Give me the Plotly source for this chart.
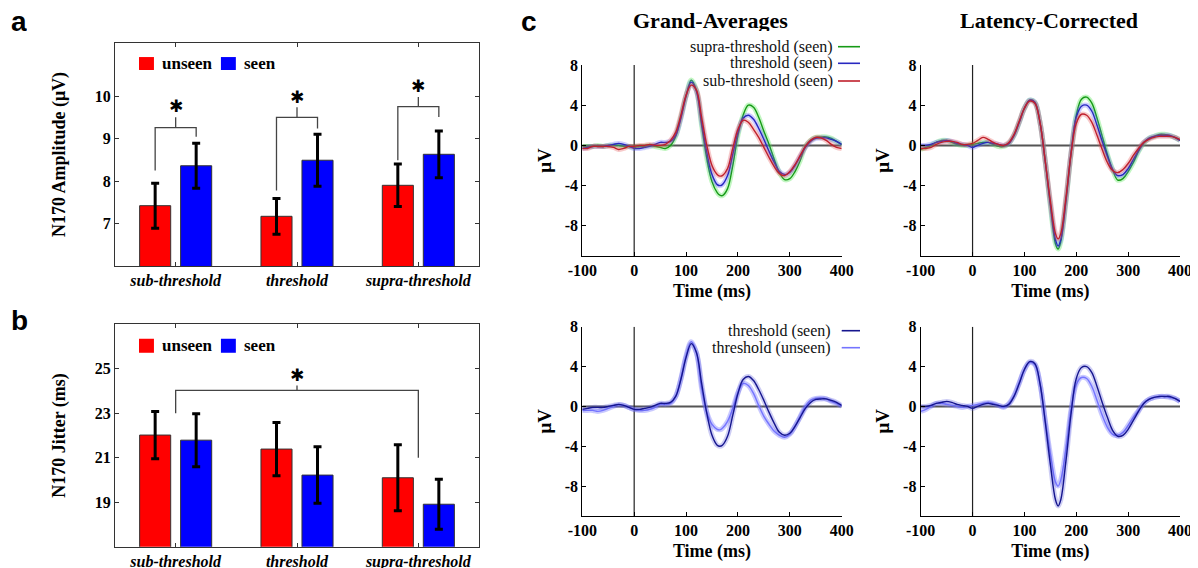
import plotly.graph_objects as go

# ---------------- data ----------------
categories = ["sub-threshold", "threshold", "supra-threshold"]
cat_pos = [1, 2, 3]

amp_unseen = [7.42, 7.17, 7.90]
amp_unseen_err = [0.53, 0.42, 0.50]
amp_seen = [8.36, 8.49, 8.63]
amp_seen_err = [0.53, 0.61, 0.55]

jit_unseen = [22.02, 21.39, 20.10]
jit_unseen_err = [1.06, 1.20, 1.48]
jit_seen = [21.79, 20.22, 18.91]
jit_seen_err = [1.19, 1.27, 1.12]

# significance brackets (panel a): per category
sig_a_left_foot = [8.25, 7.78, 8.49]
sig_a_right_foot = [9.04, 9.24, 9.51]
sig_a_top = [9.26, 9.50, 9.75]
sig_a_tick = [9.50, 9.74, 9.98]
sig_a_star = [9.77, 9.98, 10.24]
# panel b bracket: sub-threshold vs supra-threshold
sig_b_left_foot = 23.0
sig_b_right_foot = 21.0
sig_b_top = 24.03
sig_b_tick = 24.25
sig_b_star = 24.72

time_ms = [-100, -90, -80, -70, -60, -50, -40, -30, -20, -10, 0, 10, 20, 30, 40, 50,
           60, 70, 80, 90, 100, 110, 120, 130, 140, 150, 160, 165, 170, 180, 190, 200,
           210, 220, 230, 240, 250, 260, 270, 280, 290, 300, 310, 320, 330, 340, 350,
           360, 370, 380, 390, 400]

ga_supra_seen = [-0.1, -0.1, -0.1, 0.0, -0.1, 0.0, 0.0, 0.0, -0.1, -0.1, -0.2, -0.1, -0.1, 0.0, -0.1, -0.2,
                 -0.3, 0.0, 0.9, 2.8, 4.9, 6.5, 5.5, 2.0, -1.3, -3.6, -4.7, -4.95, -5.0, -4.3, -2.0, 1.0,
                 3.0, 4.0, 3.8, 2.8, 1.4, 0.1, -1.4, -2.7, -3.4, -3.3, -2.6, -1.5, -0.1, 0.5, 0.8,
                 0.85, 0.85, 0.7, 0.4, 0.1]
ga_thr_seen = [-0.3, -0.2, -0.1, -0.1, -0.1, 0.0, 0.1, 0.2, 0.1, -0.1, -0.3, -0.3, -0.2, -0.1, 0.1, 0.3,
               0.3, 0.4, 1.0, 2.7, 4.9, 6.3, 5.4, 2.3, -0.7, -2.9, -3.9, -4.0, -3.9, -3.0, -0.9, 1.3,
               2.7, 3.0, 2.6, 1.7, 0.6, -0.6, -1.7, -2.6, -2.9, -2.7, -2.0, -1.1, -0.2, 0.4, 0.7,
               0.75, 0.75, 0.6, 0.4, 0.1]
ga_sub_seen = [-0.3, -0.3, -0.1, -0.1, -0.1, -0.1, -0.2, -0.4, -0.3, -0.1, -0.1, 0.0, 0.0, 0.1, 0.0, 0.0,
               0.1, 0.5, 1.3, 3.0, 5.0, 6.0, 5.5, 2.8, 0.0, -2.0, -2.9, -3.05, -3.0, -2.3, -0.3, 1.6,
               2.5, 2.3, 1.6, 0.8, -0.2, -1.2, -2.1, -2.8, -3.0, -2.6, -1.9, -1.0, -0.1, 0.5, 0.8,
               0.75, 0.5, 0.1, -0.2, -0.3]
ga_thr_unseen = [-0.4, -0.4, -0.4, -0.5, -0.4, -0.2, 0.0, 0.15, 0.1, -0.1, -0.3, -0.4, -0.4, -0.3, -0.1, 0.2,
                 0.2, 0.3, 1.0, 2.8, 5.1, 6.5, 5.4, 1.8, -0.6, -1.8, -2.3, -2.35, -2.2, -1.5, -0.2, 1.4,
                 2.3, 2.1, 1.3, 0.1, -1.0, -1.8, -2.5, -2.9, -3.1, -2.8, -2.0, -1.0, 0.0, 0.6, 0.8,
                 0.85, 0.75, 0.5, 0.3, 0.0]

lc_supra_seen = [-0.4, -0.2, 0.0, 0.3, 0.5, 0.5, 0.3, 0.1, 0.0, 0.0, 0.1, 0.2, 0.3, 0.3, 0.1, -0.1,
                 -0.1, 0.2, 1.0, 2.3, 3.7, 4.5, 4.3, 2.3, -1.5, -6.0, -9.8, -10.3, -9.6, -5.6, -0.8, 3.0,
                 4.6, 4.8, 4.2, 2.7, 0.9, -0.9, -2.4, -3.45, -3.3, -2.6, -1.7, -0.6, 0.2, 0.7, 0.9,
                 1.1, 1.1, 1.0, 0.8, 0.5]
lc_thr_seen = [0.0, 0.0, 0.1, 0.3, 0.4, 0.5, 0.4, 0.2, 0.1, 0.0, -0.2, 0.0, 0.2, 0.3, 0.2, 0.1,
               0.0, 0.2, 1.0, 2.3, 3.7, 4.5, 4.3, 2.3, -1.5, -5.8, -9.4, -10.0, -9.4, -5.5, -0.7, 2.8,
               3.9, 4.0, 3.4, 2.0, 0.4, -1.1, -2.4, -3.0, -2.9, -2.3, -1.4, -0.5, 0.3, 0.7, 0.9,
               1.0, 1.0, 1.0, 0.8, 0.5]
lc_sub_seen = [-0.3, -0.3, -0.2, 0.1, 0.3, 0.4, 0.4, 0.3, 0.1, 0.1, 0.2, 0.5, 0.8, 0.6, 0.3, 0.1,
               0.0, 0.3, 1.1, 2.4, 3.7, 4.4, 4.2, 2.3, -1.5, -5.5, -8.8, -9.3, -8.8, -5.2, -0.8, 2.2,
               3.1, 3.0, 2.3, 1.0, -0.4, -1.7, -2.5, -2.7, -2.4, -1.8, -1.0, -0.3, 0.3, 0.6, 0.8,
               0.9, 0.9, 0.9, 0.8, 0.6]
lc_thr_unseen = [-0.5, -0.3, 0.0, 0.3, 0.3, 0.2, 0.1, 0.0, -0.1, 0.0, 0.1, 0.2, 0.3, 0.4, 0.3, 0.1,
                 -0.1, 0.3, 1.1, 2.4, 3.7, 4.4, 4.2, 2.3, -1.3, -4.8, -7.6, -8.0, -7.4, -4.3, -0.3, 2.2,
                 2.9, 2.8, 2.0, 0.6, -0.9, -2.1, -2.8, -2.9, -2.6, -1.9, -1.1, -0.4, 0.3, 0.7, 0.9,
                 1.0, 1.0, 0.9, 0.8, 0.5]

amp_ticks = [7, 8, 9, 10]
jit_ticks = [19, 21, 23, 25]
erp_xticks = [-100, 0, 100, 200, 300, 400]
erp_xlabels = ["-100", "0", "100", "200", "300", "400"]
erp_yticks = [8, 4, 0, -4, -8]
erp_ylabels = ["8", "4", "0", "-4", "-8"]

# ---------------- style ----------------
W, H = 1198, 568
PAGE_OFF = 8  # default body margin of the html page
SERIF = "Liberation Serif"
RED, BLUE = "#ff0000", "#0000ff"
C_GREEN, C_BLUE, C_RED = "#169a16", "#2828c0", "#c0202c"
C_DARK, C_LIGHT = "#16168e", "#7474ff"


def dx(p):
    return (p - PAGE_OFF) / W


def dy(p):
    return 1 - (p - PAGE_OFF) / H


fig = go.Figure()

# ---------------- bar panels ----------------
BW = 0.256
bar_panels = [
    ("x", "y", amp_unseen, amp_unseen_err, amp_seen, amp_seen_err),
    ("x2", "y2", jit_unseen, jit_unseen_err, jit_seen, jit_seen_err),
]
for xa, ya, u, ue, s, se in bar_panels:
    fig.add_trace(go.Bar(x=cat_pos, y=u, width=BW, offset=-0.169 - BW / 2,
                         marker=dict(color=RED, line=dict(color="#333333", width=1)),
                         error_y=dict(type="data", array=ue, color="black", thickness=3, width=4),
                         xaxis=xa, yaxis=ya, showlegend=False, base=0))
    fig.add_trace(go.Bar(x=cat_pos, y=s, width=BW, offset=0.169 - BW / 2,
                         marker=dict(color=BLUE, line=dict(color="#333333", width=1)),
                         error_y=dict(type="data", array=se, color="black", thickness=3, width=4),
                         xaxis=xa, yaxis=ya, showlegend=False, base=0))

# brackets panel a
for i, c in enumerate(cat_pos):
    xl, xr = c - 0.169, c + 0.169
    fig.add_trace(go.Scatter(x=[xl, xl, xr, xr], y=[sig_a_left_foot[i], sig_a_top[i], sig_a_top[i], sig_a_right_foot[i]],
                             mode="lines", line=dict(color="#444444", width=1.3),
                             xaxis="x", yaxis="y", showlegend=False, hoverinfo="skip"))
    fig.add_trace(go.Scatter(x=[c, c], y=[sig_a_top[i], sig_a_tick[i]], mode="lines",
                             line=dict(color="#444444", width=1.3),
                             xaxis="x", yaxis="y", showlegend=False, hoverinfo="skip"))
    fig.add_annotation(x=c, y=sig_a_star[i], xref="x", yref="y", text="✱", showarrow=False,
                       font=dict(family="DejaVu Sans", size=17, color="black"))

# bracket panel b
fig.add_trace(go.Scatter(x=[cat_pos[0], cat_pos[0], cat_pos[2], cat_pos[2]],
                         y=[sig_b_left_foot, sig_b_top, sig_b_top, sig_b_right_foot],
                         mode="lines", line=dict(color="#444444", width=1.3),
                         xaxis="x2", yaxis="y2", showlegend=False, hoverinfo="skip"))
fig.add_trace(go.Scatter(x=[cat_pos[1], cat_pos[1]], y=[sig_b_top, sig_b_tick], mode="lines",
                         line=dict(color="#444444", width=1.3),
                         xaxis="x2", yaxis="y2", showlegend=False, hoverinfo="skip"))
fig.add_annotation(x=cat_pos[1], y=sig_b_star, xref="x2", yref="y2", text="✱", showarrow=False,
                   font=dict(family="DejaVu Sans", size=17, color="black"))

# ---------------- ERP panels ----------------
def erp(xa, ya, y, color, band):
    fig.add_trace(go.Scatter(x=time_ms, y=y, mode="lines", line=dict(color=band, width=5, shape="spline"),
                             xaxis=xa, yaxis=ya, showlegend=False, hoverinfo="skip"))
    fig.add_trace(go.Scatter(x=time_ms, y=y, mode="lines", line=dict(color=color, width=1.4, shape="spline"),
                             xaxis=xa, yaxis=ya, showlegend=False))


for xa, ya, g, b, r in [("x3", "y3", ga_supra_seen, ga_thr_seen, ga_sub_seen),
                        ("x4", "y4", lc_supra_seen, lc_thr_seen, lc_sub_seen)]:
    erp(xa, ya, g, C_GREEN, "rgba(80,230,80,0.35)")
    erp(xa, ya, b, C_BLUE, "rgba(90,90,255,0.30)")
    erp(xa, ya, r, C_RED, "rgba(230,80,80,0.30)")

for xa, ya, d, l in [("x5", "y5", ga_thr_seen, ga_thr_unseen),
                     ("x6", "y6", lc_thr_seen, lc_thr_unseen)]:
    erp(xa, ya, l, C_LIGHT, "rgba(120,120,255,0.40)")
    erp(xa, ya, d, C_DARK, "rgba(90,90,220,0.30)")

# ---------------- axes ----------------
tickfont = dict(family=SERIF, size=16, color="black", weight="bold")
titlefont = dict(family=SERIF, size=18, color="black", weight="bold")
bar_x = dict(range=[0.5, 3.5], tickvals=cat_pos, ticktext=categories, ticks="inside", ticklen=4,
             showline=True, linecolor="#333333", linewidth=1.2, mirror="ticks", showgrid=False,
             zeroline=False, tickcolor="#333333", automargin=False,
             tickfont=dict(family=SERIF, size=16, color="black", weight="bold", style="italic"))
bar_y = dict(ticks="inside", ticklen=4, showline=True, linecolor="#333333", linewidth=1.2,
             mirror="ticks", showgrid=False, zeroline=False, tickfont=tickfont, tickcolor="#333333",
             automargin=False)

fig.update_layout(
    xaxis=dict(bar_x, domain=[dx(115), dx(479)], anchor="y"),
    yaxis=dict(bar_y, domain=[dy(266), dy(43)], anchor="x", range=[6, 11.25], tickvals=amp_ticks,
               title=dict(text="N170 Amplitude (μV)", font=titlefont, standoff=24)),
    xaxis2=dict(bar_x, domain=[dx(115), dx(479)], anchor="y2"),
    yaxis2=dict(bar_y, domain=[dy(546.7), dy(324.3)], anchor="x2", range=[17, 27], tickvals=jit_ticks,
                title=dict(text="N170 Jitter (ms)", font=titlefont, standoff=24)),
)

erp_x = dict(range=[-100, 400], tickvals=erp_xticks, ticktext=erp_xlabels, ticks="inside", ticklen=4,
             showline=True, linecolor="black", linewidth=1.2, showgrid=False, zeroline=False,
             tickfont=tickfont, tickcolor="black", automargin=False,
             title=dict(text="Time (ms)", font=titlefont, standoff=6))
erp_y = dict(range=[-11, 8], tickvals=erp_yticks, ticktext=erp_ylabels, ticks="inside", ticklen=4,
             showline=True, linecolor="black", linewidth=1.2, showgrid=False, zeroline=False,
             tickfont=tickfont, tickcolor="black", automargin=False,
             title=dict(text="μV", font=dict(family=SERIF, size=19, color="black", weight="bold"), standoff=8))

erp_boxes = {3: (582.3, 841.7, 65, 256), 4: (920.7, 1180, 65, 256),
             5: (582.3, 841.7, 326.7, 516), 6: (920.7, 1180, 326.7, 516)}
for k, (x0, x1, y0, y1) in erp_boxes.items():
    fig.update_layout(**{
        f"xaxis{k}": dict(erp_x, domain=[dx(x0), dx(x1)], anchor=f"y{k}"),
        f"yaxis{k}": dict(erp_y, domain=[dy(y1), dy(y0)], anchor=f"x{k}"),
    })
    fig.add_shape(type="line", xref=f"x{k}", yref=f"y{k}", x0=-100, x1=400, y0=0, y1=0,
                  line=dict(color="#555555", width=2), layer="below")
    fig.add_shape(type="line", xref=f"x{k}", yref=f"y{k}", x0=0, x1=0, y0=-11, y1=8,
                  line=dict(color="#222222", width=1.2), layer="below")

# ---------------- legends / labels ----------------
for xa, ya, sq_y0, sq_y1 in [("x", "y", 0.879, 0.937), ("x2", "y2", 0.872, 0.935)]:
    for color, lx0, lx1, tx, label in [(RED, 0.066, 0.107, 0.124, "unseen"), (BLUE, 0.291, 0.332, 0.349, "seen")]:
        fig.add_shape(type="rect", xref=f"{xa} domain", yref=f"{ya} domain", x0=lx0, x1=lx1,
                      y0=sq_y0, y1=sq_y1, fillcolor=color, line=dict(width=0))
        fig.add_annotation(xref=f"{xa} domain", yref=f"{ya} domain", x=tx, y=(sq_y0 + sq_y1) / 2,
                           text=label, showarrow=False, xanchor="left", yanchor="middle",
                           font=dict(family=SERIF, size=17, color="black", weight="bold"))

erp_legend = [
    (46.7, "supra-threshold (seen)", C_GREEN, 835, 838),
    (63.3, "threshold (seen)", C_BLUE, 835, 838),
    (81.0, "sub-threshold (seen)", C_RED, 835, 838),
    (330.7, "threshold (seen)", C_DARK, 833, 841.7),
    (347.7, "threshold (unseen)", C_LIGHT, 833, 841.7),
]
for yy, label, color, tx, lx0 in erp_legend:
    fig.add_annotation(xref="paper", yref="paper", x=dx(tx), y=dy(yy), text=label, showarrow=False,
                       xanchor="right", yanchor="middle", font=dict(family=SERIF, size=16, color="#111111"))
    fig.add_shape(type="line", xref="paper", yref="paper", x0=dx(lx0), x1=dx(860), y0=dy(yy), y1=dy(yy),
                  line=dict(color=color, width=1.6))

for text, xp in [("Grand-Averages", 710), ("Latency-Corrected", 1049)]:
    fig.add_annotation(xref="paper", yref="paper", x=dx(xp), y=dy(20), text=text, showarrow=False,
                       xanchor="center", yanchor="middle", height=22, valign="middle",
                       font=dict(family=SERIF, size=22, color="black", weight="bold"))

for text, xp, yp in [("a", 19, 21), ("b", 19, 320), ("c", 529, 21)]:
    fig.add_annotation(xref="paper", yref="paper", x=dx(xp), y=dy(yp), text=text, showarrow=False,
                       xanchor="center", yanchor="middle", height=24, valign="middle",
                       font=dict(family="Liberation Sans", size=28, color="black", weight="bold"))

fig.update_layout(width=W, height=H, margin=dict(l=0, r=0, t=0, b=0, autoexpand=False), autosize=False,
                  paper_bgcolor="white", plot_bgcolor="white", showlegend=False, barmode="overlay")

fig.write_html("out.html")
